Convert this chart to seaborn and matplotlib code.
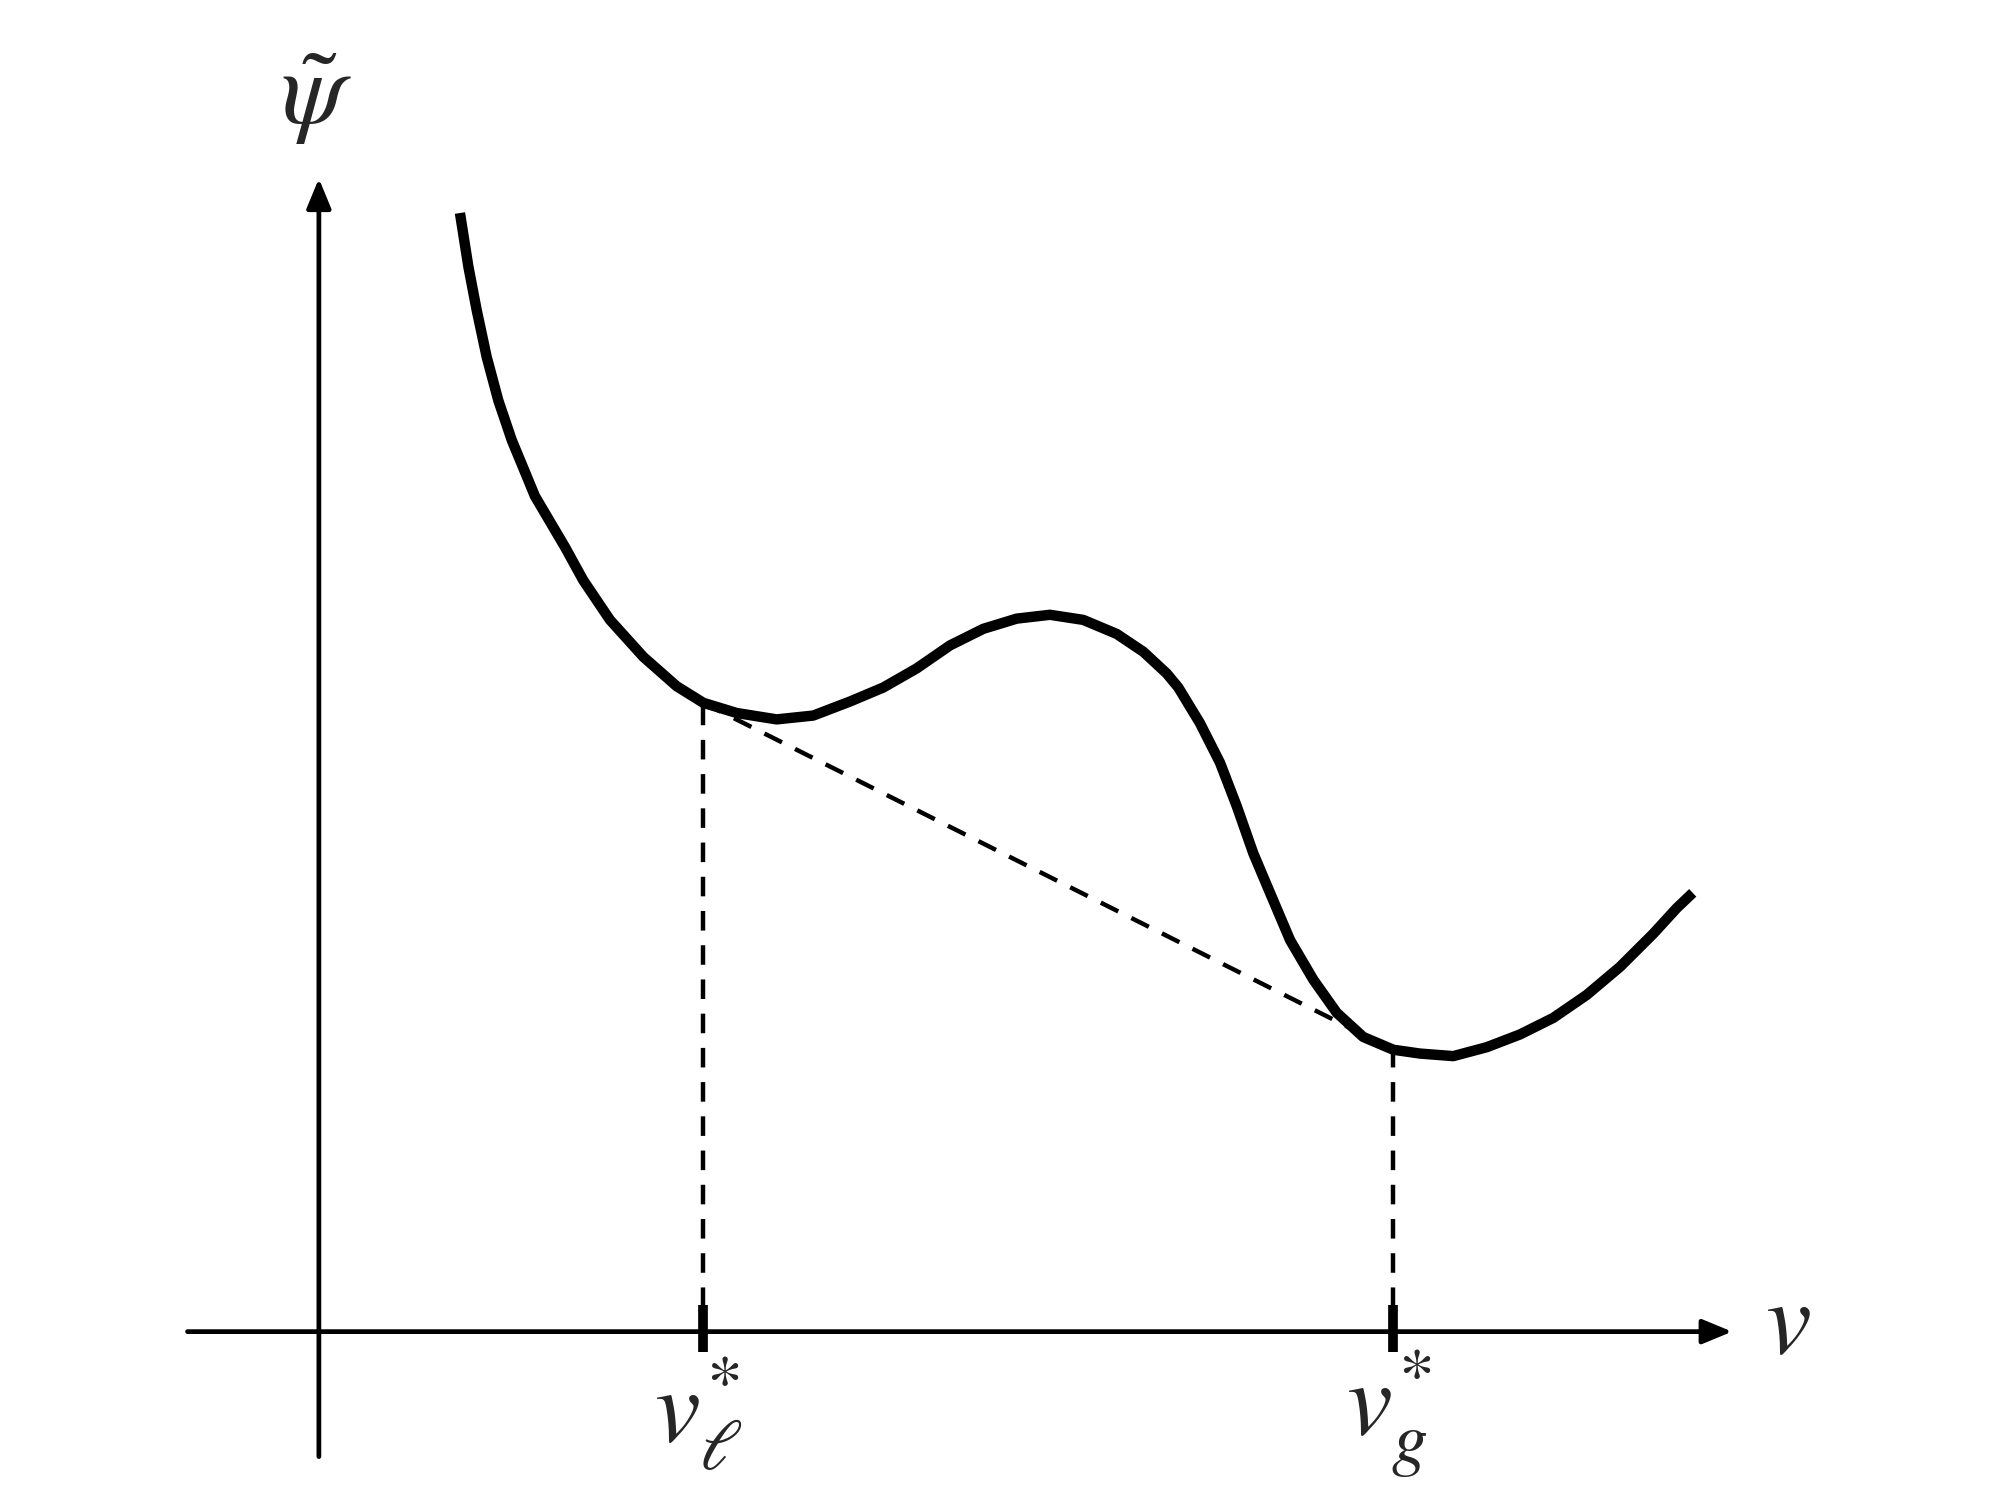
import matplotlib
matplotlib.use("Agg")
import matplotlib.pyplot as plt
import seaborn as sns
import pandas as pd

# ---- data (schematic units) ----
curve_v = [1.106, 1.172, 1.237, 1.316, 1.407, 1.512, 1.694, 1.930, 2.073, 2.282, 2.544,
           2.805, 3.014, 3.276, 3.589, 3.876, 4.164, 4.425, 4.687, 4.948, 5.209, 5.471,
           5.732, 5.993, 6.255, 6.464, 6.647, 6.738, 6.908, 7.065, 7.196, 7.326, 7.457,
           7.614, 7.796, 7.980, 8.188, 8.424, 8.633, 8.894, 9.156, 9.417, 9.678, 9.940,
           10.201, 10.462, 10.645, 10.771]
curve_psi = [8.77, 8.35, 8.01, 7.64, 7.30, 6.99, 6.55, 6.15, 5.89, 5.58, 5.29,
             5.06, 4.93, 4.85, 4.80, 4.83, 4.94, 5.05, 5.20, 5.38, 5.51, 5.59,
             5.62, 5.58, 5.47, 5.33, 5.16, 5.05, 4.77, 4.46, 4.12, 3.75, 3.44,
             3.07, 2.76, 2.50, 2.31, 2.21, 2.18, 2.16, 2.23, 2.33, 2.46, 2.64,
             2.86, 3.12, 3.32, 3.44]
v_star = [3.014, 8.424]          # v_l*, v_g*
psi_star = [4.93, 2.21]          # curve values at v_l*, v_g*
star_labels = [r'$v_{\ell}^{*}$', r'$v_{g}^{*}$']
x_label = r'$v$'
y_label = r'$\tilde{\psi}$'

sns.set_theme(style="white")
plt.rcParams['mathtext.fontset'] = 'stix'
plt.rcParams['font.family'] = ['STIXGeneral', 'DejaVu Sans']

fig = plt.figure(figsize=(20, 15), dpi=100)
ax = fig.add_axes([0, 0, 1, 1])
ax.set_xlim(-2.5, 13.18)
ax.set_ylim(-1.32, 10.44)
ax.axis('off')

df = pd.DataFrame({'v': curve_v, 'psi': curve_psi})
sns.lineplot(data=df, x='v', y='psi', sort=False, color='black', linewidth=7.5,
             ax=ax, solid_capstyle='butt', solid_joinstyle='round')

# axes arrows
arrow_kw = dict(arrowstyle='-|>,head_length=1.5,head_width=0.62', color='black',
                lw=3.4, shrinkA=0, shrinkB=0)
ax.annotate('', xy=(11.08, 0), xytext=(-1.03, 0), arrowprops=arrow_kw)
ax.annotate('', xy=(0, 9.04), xytext=(0, -0.98), arrowprops=arrow_kw)

# dashed guides
dash = (4.4, 3.3)
for vs, ps in zip(v_star, psi_star):
    ax.plot([vs, vs], [0.19, ps], color='black', lw=3.2, dashes=dash)
ax.plot(v_star, psi_star, color='black', lw=3.2, dashes=dash)

# thick tick marks
for vs in v_star:
    ax.plot([vs, vs], [-0.16, 0.21], color='black', lw=7.0, solid_capstyle='butt')

# labels
fs = 74
for vs, lab in zip(v_star, star_labels):
    ax.text(vs - 0.04, -0.64, lab, fontsize=fs, ha='center', va='center')
ax.text(11.52, 0.02, x_label, fontsize=fs, ha='center', va='center')
ax.text(-0.02, 9.66, y_label, fontsize=fs, ha='center', va='center')

fig.savefig('out.png', dpi=100, facecolor='white')
